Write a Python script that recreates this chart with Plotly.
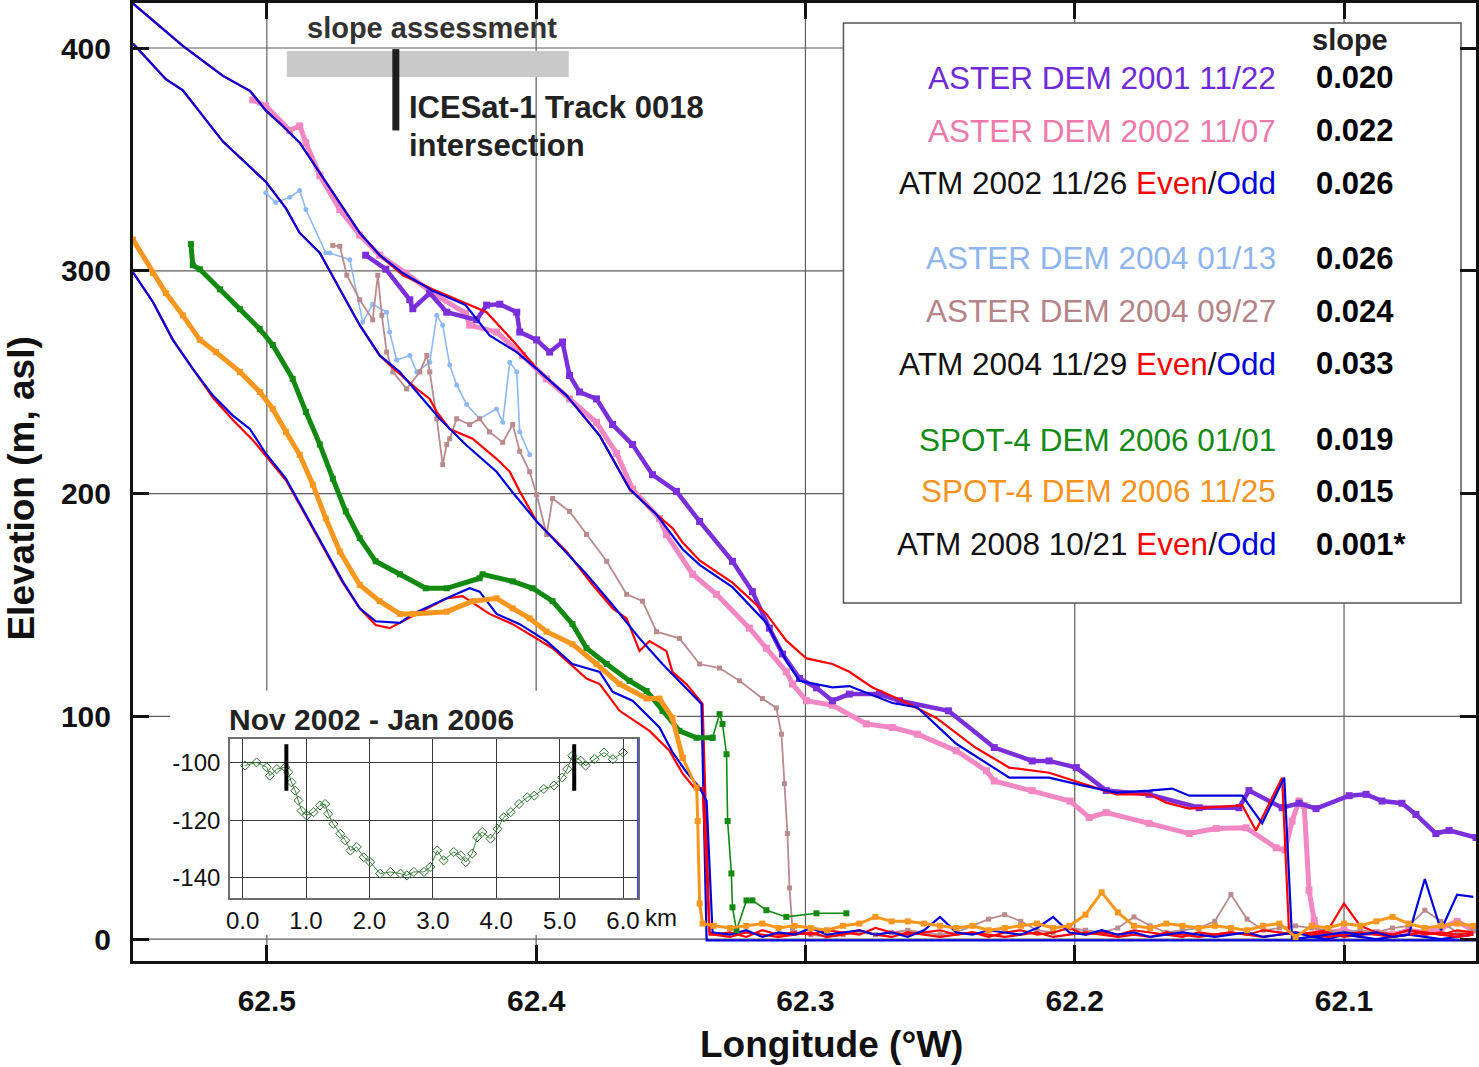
import plotly.graph_objects as go

# ------------------------------------------------------------------ data
X_TICKS = [62.5, 62.4, 62.3, 62.2, 62.1]
Y_TICKS = [0, 100, 200, 300, 400]

# ASTER DEM 2001 11/22
ASTER01_LON = [62.4633, 62.4558, 62.4469, 62.4458, 62.4395, 62.4332, 62.4221, 62.4184, 62.4135, 62.4072,
               62.4061, 62.3998, 62.3950, 62.3902, 62.3876, 62.3839, 62.3776, 62.3716, 62.3642, 62.3568,
               62.3479, 62.3393, 62.3271, 62.3197, 62.3134, 62.3085, 62.3022, 62.2959, 62.2900, 62.2837,
               62.2725, 62.2651, 62.2469, 62.2299, 62.2158, 62.2095, 62.1994, 62.1883, 62.1724, 62.1538,
               62.1390, 62.1353, 62.1230, 62.1167, 62.1104, 62.0981, 62.0918, 62.0859, 62.0785, 62.0733,
               62.0659, 62.0610, 62.0510]
ASTER01_ELEV = [307, 300.7, 287, 283, 290, 281.4, 278, 284.6, 285, 281.4,
                272.5, 269, 263.5, 268, 253, 245.6, 242.5, 231, 222, 208.5,
                201, 187.5, 169.6, 156, 139.6, 128, 117, 112.8, 107, 110,
                110, 107, 102.5, 86, 80, 80, 77, 66.7, 65, 59,
                59, 66.7, 59, 61, 58.6, 64.4, 65, 62, 61, 56,
                47.4, 48.8, 45.6]

# ASTER DEM 2002 11/07
ASTER02_LON = [62.5052, 62.5004, 62.4915, 62.4878, 62.4855, 62.4803, 62.4729, 62.4655, 62.4581, 62.4484,
               62.4384, 62.4262, 62.4247, 62.4147, 62.4050, 62.3961, 62.3876, 62.3776, 62.3701, 62.3642,
               62.3542, 62.3516, 62.3419, 62.3330, 62.3208, 62.3145, 62.3071, 62.3048, 62.2996, 62.2900,
               62.2774, 62.2677, 62.2584, 62.2440, 62.2328, 62.2299, 62.2158, 62.2017, 62.1946, 62.1883,
               62.1724, 62.1575, 62.1475, 62.1364, 62.1252, 62.1219, 62.1193, 62.1167, 62.1148, 62.1130,
               62.1111, 62.1093]
ASTER02_ELEV = [376.7, 374, 363, 365, 357.5, 342.7, 327.5, 316, 307, 299,
                290, 281, 275.6, 272.5, 262, 251.5, 242.5, 232, 218, 202,
                188.8, 181.6, 163.8, 154.8, 139.6, 130.6, 120, 114.5, 107, 105,
                96.6, 95, 92, 84.6, 75.6, 71, 66.7, 62, 54.6, 56.8,
                52, 47.4, 49.7, 50, 41, 40, 53, 62, 60, 22,
                8.5, 3]

# ATM 2002 11/26 even / odd
ATM02E_LON = [62.5497, 62.5312, 62.5163, 62.5063, 62.5004, 62.4941, 62.4878, 62.4803, 62.4729, 62.4655,
              62.4581, 62.4495, 62.4384, 62.4273, 62.4184, 62.4072, 62.3998, 62.3887, 62.3764, 62.3653,
              62.3553, 62.3494, 62.3456, 62.3393, 62.3271, 62.3145, 62.3071, 62.2996, 62.2900, 62.2837,
              62.2751, 62.2640, 62.2514, 62.2369, 62.2243, 62.2095, 62.1972, 62.1846, 62.1724, 62.1660,
              62.1575, 62.1378, 62.1327, 62.1230, 62.1204]
ATM02E_ELEV = [420, 401, 387.5, 380.8, 372, 365, 357.5, 344, 330.6, 317,
               307, 298, 291.7, 286, 281.4, 266.7, 256, 244, 226, 202,
               190.6, 184.5, 178, 170, 160, 146, 134, 126, 123.5, 120,
               113, 107, 99.3, 86, 77, 74.7, 69.8, 65, 65, 61.3,
               58.6, 60, 48.8, 72.5, 2.7]
ATM02O_LON = [62.5497, 62.5312, 62.5163, 62.5063, 62.5004, 62.4941, 62.4878, 62.4803, 62.4729, 62.4655,
              62.4581, 62.4495, 62.4384, 62.4262, 62.4173, 62.4072, 62.3998, 62.3887, 62.3764, 62.3653,
              62.3553, 62.3456, 62.3393, 62.3271, 62.3145, 62.3071, 62.3022, 62.2900, 62.2837, 62.2677,
              62.2584, 62.2440, 62.2243, 62.2095, 62.1972, 62.1846, 62.1724, 62.1638, 62.1575, 62.1378,
              62.1304, 62.1222, 62.1193]
ATM02O_ELEV = [420, 401, 387.5, 380.8, 372, 365, 357.5, 344, 330.6, 317,
               307, 299, 291, 284.6, 271, 263.5, 256, 244, 226, 202,
               190.6, 175, 168, 158, 142, 125, 116, 113, 113.6, 106,
               104, 87.7, 72.5, 72.5, 69, 65.8, 66.7, 67.6, 64.4, 64.4,
               52, 72.5, 0]

# ASTER DEM 2004 01/13
ASTER04A_LON = [62.5004, 62.4967, 62.4915, 62.4878, 62.4855, 62.4781, 62.4766, 62.4692, 62.4644, 62.4607,
                62.4555, 62.4544, 62.4518, 62.4469, 62.4443, 62.4395, 62.4369, 62.4347, 62.4321, 62.4295,
                62.4258, 62.4210, 62.4147, 62.4124, 62.4098, 62.4072, 62.4061, 62.4024]
ASTER04A_ELEV = [335, 330.6, 333, 336, 327.5, 308, 308, 305, 277, 285,
                 281.4, 272.5, 260, 262, 254.6, 259, 280, 275.6, 257.7, 248.7,
                 240, 233.6, 238, 232, 259, 254.6, 227.7, 217.4]

# ASTER DEM 2004 09/27
ASTER04B_LON = [62.4755, 62.4729, 62.4703, 62.4655, 62.4607, 62.4588, 62.4573, 62.4555, 62.4532, 62.4481,
                62.4432, 62.4406, 62.4395, 62.4369, 62.4347, 62.4332, 62.4321, 62.4295, 62.4247, 62.4210,
                62.4173, 62.4124, 62.4087, 62.4061, 62.4024, 62.3998, 62.3961, 62.3939, 62.3876, 62.3813,
                62.3738, 62.3664, 62.3605, 62.3553, 62.3468, 62.3393, 62.3319, 62.3245, 62.3160, 62.3108,
                62.3089, 62.3078, 62.3067, 62.3059, 62.3048]
ASTER04B_ELEV = [311.4, 311, 298, 287, 278, 298, 280, 263.5, 254.6, 247,
                 254.6, 262, 254.6, 233.6, 213, 222, 224.6, 233.6, 231, 233.6,
                 227.7, 223, 231, 219, 209.8, 199.6, 181.6, 197.8, 192, 181.6,
                 169.6, 154.8, 151.7, 138, 135, 123.5, 121.7, 116, 108, 103.8,
                 92, 69.8, 47.4, 23, 4]

# ATM 2004 11/29 even / odd
ATM04E_LON = [62.5497, 62.5375, 62.5312, 62.5163, 62.5004, 62.4929, 62.4878, 62.4803, 62.4729, 62.4655,
              62.4581, 62.4544, 62.4443, 62.4395, 62.4369, 62.4321, 62.4236, 62.4147, 62.4098, 62.4061,
              62.3998, 62.3887, 62.3790, 62.3716, 62.3664, 62.3616, 62.3579, 62.3516, 62.3494, 62.3442,
              62.3382, 62.3356]
ATM04E_ELEV = [402, 386, 381, 358, 340, 328, 317, 308, 291.7, 275.6,
               262, 257.7, 247, 242.5, 236.7, 229, 224.6, 215.6, 209.8, 201,
               187.5, 174, 159, 148.5, 144, 129.3, 133.8, 129.3, 120, 114.5,
               105.6, 2]
ATM04O_LON = [62.5497, 62.5375, 62.5312, 62.5163, 62.5004, 62.4929, 62.4878, 62.4803, 62.4729, 62.4655,
              62.4581, 62.4506, 62.4432, 62.4358, 62.4262, 62.4147, 62.4087, 62.3998, 62.3902, 62.3813,
              62.3716, 62.3616, 62.3531, 62.3442, 62.3386, 62.3367, 62.0510]
ATM04O_ELEV = [402, 386, 381, 358, 340, 328, 317, 308, 291.7, 275.6,
               262, 254.6, 244, 233.6, 222, 209.8, 200.5, 187.5, 175.4, 163.8,
               150, 135, 123.5, 112.8, 105.6, -0.5, -0.5]

# ATM 2008 10/21 even / odd
ATM08E_LON = [62.5497, 62.5423, 62.5349, 62.5275, 62.5200, 62.5126, 62.5052, 62.5004, 62.4929, 62.4855,
              62.4781, 62.4718, 62.4655, 62.4596, 62.4544, 62.4458, 62.4332, 62.4273, 62.4173, 62.4087,
              62.3939, 62.3813, 62.3764, 62.3690, 62.3579, 62.3505, 62.3456, 62.3404, 62.3382, 62.3356]
ATM08E_ELEV = [299.3, 286, 269, 256, 243, 233, 224, 217, 206, 190,
               174, 160, 148.5, 141, 139.6, 145, 153, 154, 146, 141.4,
               130.6, 117, 114.5, 102.5, 93.5, 84.6, 74.3, 66.7, 68, 3]
ATM08O_LON = [62.5497, 62.5423, 62.5349, 62.5275, 62.5200, 62.5126, 62.5063, 62.5004, 62.4929, 62.4855,
              62.4781, 62.4718, 62.4655, 62.4596, 62.4506, 62.4458, 62.4332, 62.4247, 62.4210, 62.4147,
              62.4061, 62.3961, 62.3865, 62.3764, 62.3716, 62.3642, 62.3542, 62.3494, 62.3442, 62.3393,
              62.3367, 62.3345]
ATM08O_ELEV = [299.3, 286, 269, 256, 244, 235, 229, 218, 206.7, 190.6,
               174, 160.6, 148.5, 142.7, 142, 146, 153, 157.5, 156, 146,
               141.4, 133.8, 123.5, 120, 111, 107, 95, 84, 75, 68,
               62, 3]

# SPOT-4 DEM 2006 01/01
SPOT06A_LON = [62.5282, 62.5275, 62.5249, 62.5174, 62.5100, 62.5026, 62.4978, 62.4904, 62.4855, 62.4803,
               62.4755, 62.4707, 62.4655, 62.4596, 62.4506, 62.4410, 62.4332, 62.4210, 62.4199, 62.4087,
               62.4013, 62.3939, 62.3865, 62.3813, 62.3738, 62.3653, 62.3590, 62.3531, 62.3468, 62.3404,
               62.3345, 62.3319, 62.3308, 62.3293, 62.3289, 62.3275, 62.3271, 62.3256, 62.3219, 62.3197,
               62.3145, 62.3071, 62.2959, 62.2848]
SPOT06A_ELEV = [312, 302.5, 300.7, 291.7, 282.8, 273.8, 266.7, 251.5, 236.7, 222,
                206.7, 192, 180, 169.6, 163.8, 157.5, 157.5, 162, 163.8, 160.6,
                157.5, 151.7, 141.4, 130.6, 123.5, 115.9, 111.4, 102.5, 93.5, 90.4,
                90.4, 101, 96.6, 83, 53, 29.5, 14.3, 4, 17.4, 17.4,
                13, 10, 11.6, 11.6]

# SPOT-4 DEM 2006 11/25
SPOT06B_LON = [62.5497, 62.5423, 62.5375, 62.5312, 62.5249, 62.5189, 62.5100, 62.5026, 62.4978, 62.4929,
               62.4878, 62.4829, 62.4781, 62.4729, 62.4655, 62.4581, 62.4506, 62.4458, 62.4332, 62.4236,
               62.4147, 62.4087, 62.4024, 62.3961, 62.3865, 62.3776, 62.3690, 62.3590, 62.3542, 62.3494,
               62.3456, 62.3404, 62.3400, 62.3393, 62.3382]
SPOT06B_ELEV = [314, 299, 290, 280, 269, 263.5, 254.6, 245.6, 238, 227.7,
                217.4, 204, 188.8, 174, 159, 151.7, 146, 146, 147, 151.7,
                153, 148.5, 144, 138, 132.4, 123.5, 114.5, 108, 108, 99.3,
                81.4, 68, 53, 16, 7]

# near-sea-level samples (shared longitudes)
SEA_LON = [62.334, 62.328, 62.322, 62.316, 62.310, 62.304, 62.298, 62.292, 62.286, 62.280,
           62.274, 62.268, 62.262, 62.256, 62.250, 62.244, 62.238, 62.232, 62.226, 62.220,
           62.214, 62.208, 62.202, 62.196, 62.190, 62.184, 62.178, 62.172, 62.166, 62.160,
           62.154, 62.148, 62.142, 62.136, 62.130, 62.124, 62.118, 62.112, 62.106, 62.100,
           62.094, 62.088, 62.082, 62.076, 62.070, 62.064, 62.058, 62.052]
SPOT06B_SEA = [6, 5, 6, 7, 5, 6, 5, 4, 6, 7, 10, 8, 8, 7, 6, 5, 6, 4, 5, 6,
               7, 5, 6, 11, 21, 12, 6, 5, 7, 6, 5, 6, 5, 4, 6, 7, 1, 6, 5, 7,
               6, 8, 10, 7, 5, 6, 7, 6]
ASTER04B_SEA_START = 5
ASTER04B_SEA = [3, 2, 1, 2, 3, 2, 3, 4, 3, 2, 3, 6, 9, 11, 8, 4, 3, 5, 4, 3,
                5, 10, 6, 3, 4, 5, 8, 20, 9, 4, 5, 6, 5, 4, 3, 4, 3, 5, 6, 13,
                8, 3, 4]
ATM04E_SEA = [2, 1, 3, 2, 1, 2, 3, 1, 2, 4, 2, 1, 3, 2, 1, 2, 3, 2, 1, 2,
              3, 1, 2, 3, 2, 1, 2, 1, 3, 2, 1, 2, 3, 2, 1, 2, 3, 2, 1, 2,
              3, 2, 1, 2, 3, 2, 1, 2]
ATM08O_SEA = [3, 2, 4, 1, 3, 2, 5, 2, 3, 4, 2, 3, 1, 4, 10, 3, 2, 4, 3, 2,
              5, 10, 3, 2, 4, 2, 3, 1, 2, 3, 2, 1, 2, 3, 1, 2, 3, 1, 2, 3,
              2, 3, 1, 2, 27, 4, 20, 19]
ATM08E_SEA = [2, 3, 1, 4, 2, 3, 2, 4, 3, 2, 5, 3, 2, 3, 4, 2, 3, 1, 3, 4,
              2, 3, 5, 2, 3, 2, 4, 3, 2, 1, 3, 2, 3, 2, 4, 3, 2, 3, 4, 16,
              6, 3, 2, 4, 3, 2, 4, 3]
ATM02_SEA_START = 37
ATM02E_SEA = [2, 3, 1, 2, 3, 2, 4, 2, 3, 2, 3]
ATM02O_SEA = [1, 0, 2, 1, 0, 1, 2, 1, 0, 1, 2]
ASTER02_SEA_START = 38
ASTER02_SEA = [3, 4, 2, 3, 2, 4, 3, 5, 8, 4]

# slope assessment window / ICESat-1 crossing
SLOPE_WINDOW = [62.4926, 62.3879]
SLOPE_BAR_ELEV = [387, 398.7]
ICESAT_LON = 62.4521
ICESAT_ELEV = [363, 399.5]

# inset: elevation change Nov 2002 - Jan 2006
INSET_KM = [0.04, 0.22, 0.38, 0.43, 0.54, 0.67, 0.72, 0.77, 0.83, 0.88,
            0.93, 1.01, 1.12, 1.22, 1.30, 1.35, 1.43, 1.54, 1.62, 1.70,
            1.80, 1.91, 2.01, 2.17, 2.33, 2.49, 2.59, 2.70, 2.86, 2.96,
            3.07, 3.17, 3.33, 3.44, 3.52, 3.62, 3.70, 3.78, 3.91, 4.02,
            4.12, 4.23, 4.36, 4.49, 4.60, 4.75, 4.91, 5.04, 5.12, 5.20,
            5.33, 5.41, 5.55, 5.70, 5.84, 6.00]
INSET_DH = [-101.1, -100, -101.7, -104.6, -102.3, -101.7, -103.4, -106.9, -109.8, -113.2,
            -116.7, -118.4, -117.2, -114.9, -114.4, -117.8, -121.3, -124.7, -127, -130.5,
            -129.3, -132.8, -134.5, -138.5, -137.9, -138.5, -139.1, -137.9, -137.9, -136.2,
            -130.5, -133.9, -131, -132.2, -134.5, -131.6, -125.9, -124.1, -126.4, -123,
            -119, -117.2, -114.4, -112.1, -111.5, -109.2, -108, -105.2, -102.3, -97.7,
            -99.4, -101.1, -98.9, -96.6, -98.9, -96.6]
INSET_X_TICKS = [0, 1, 2, 3, 4, 5, 6]
INSET_Y_TICKS = [-100, -120, -140]
INSET_MARKS = [0.69, 5.23]
INSET_MARK_DH = [-93.7, -109.8]

LEGEND_LABELS = ["ASTER DEM 2001 11/22", "ASTER DEM 2002 11/07", "ATM 2002 11/26",
                 "ASTER DEM 2004 01/13", "ASTER DEM 2004 09/27", "ATM 2004 11/29",
                 "SPOT-4 DEM 2006 01/01", "SPOT-4 DEM 2006 11/25", "ATM 2008 10/21"]
SLOPES = ["0.020", "0.022", "0.026", "0.026", "0.024", "0.033", "0.019", "0.015", "0.001*"]

# ------------------------------------------------------------------ styles
FONT = "Liberation Sans"
C_PURPLE = "#7A2FDA"
C_PINK = "#F287C4"
C_LBLUE = "#8DB8F5"
C_BROWN = "#B98B8D"
C_GREEN = "#128A12"
C_ORANGE = "#F9961E"
C_RED = "#FF0000"
C_BLUE = "#0000DD"
C_GRID = "#5E5E5E"
LEG_COLORS = ["#6F2BD8", "#EE7AAA", "#111111", "#8FB5EE", "#B58489", "#111111",
              "#168A16", "#F7931E", "#111111"]

W, H = 1479, 1067
ML, MR, MT, MB = 133, 2, 0, 106


def PX(px):
    return (px - ML) / (W - ML - MR)


def PY(py):
    return (H - MB - py) / (H - MT - MB)


def join(lon, elev, sea=None, start=0):
    x = list(lon)
    y = list(elev)
    if sea:
        x += SEA_LON[start:start + len(sea)]
        y += list(sea)
    return x, y


fig = go.Figure()


def thick(x, y, color, width=5, marker=6, symbol="square"):
    fig.add_trace(go.Scatter(x=x, y=y, mode="lines+markers",
                             line=dict(color=color, width=width),
                             marker=dict(color=color, size=marker, symbol=symbol),
                             showlegend=False, hoverinfo="skip"))


def thin(x, y, color, width=2.2):
    fig.add_trace(go.Scatter(x=x, y=y, mode="lines",
                             line=dict(color=color, width=width),
                             showlegend=False, hoverinfo="skip"))


# ASTER 2002 (pink)
x, y = join(ASTER02_LON, ASTER02_ELEV, ASTER02_SEA, ASTER02_SEA_START)
thick(x, y, C_PINK, width=5, marker=7)
# ASTER 2001 (purple)
thick(ASTER01_LON, ASTER01_ELEV, C_PURPLE, width=4.5, marker=7)
# ASTER 2004 01/13 (light blue)
fig.add_trace(go.Scatter(x=ASTER04A_LON, y=ASTER04A_ELEV, mode="lines+markers",
                         line=dict(color=C_LBLUE, width=1.6),
                         marker=dict(color=C_LBLUE, size=5, symbol="circle"),
                         showlegend=False, hoverinfo="skip"))
# ASTER 2004 09/27 (brown)
x, y = join(ASTER04B_LON, ASTER04B_ELEV, ASTER04B_SEA, ASTER04B_SEA_START)
fig.add_trace(go.Scatter(x=x, y=y, mode="lines+markers",
                         line=dict(color=C_BROWN, width=1.8),
                         marker=dict(color=C_BROWN, size=5, symbol="square"),
                         showlegend=False, hoverinfo="skip"))
# ATM lines
x, y = join(ATM02E_LON, ATM02E_ELEV, ATM02E_SEA, ATM02_SEA_START)
thin(x, y, C_RED)
x, y = join(ATM02O_LON, ATM02O_ELEV, ATM02O_SEA, ATM02_SEA_START)
thin(x, y, C_BLUE)
x, y = join(ATM04E_LON, ATM04E_ELEV, ATM04E_SEA)
thin(x, y, C_RED)
thin(ATM04O_LON, ATM04O_ELEV, C_BLUE)
x, y = join(ATM08E_LON, ATM08E_ELEV, ATM08E_SEA)
thin(x, y, C_RED)
x, y = join(ATM08O_LON, ATM08O_ELEV, ATM08O_SEA)
thin(x, y, C_BLUE)

# SPOT-4 2006 01/01 (green): dense slope part + sparse tail
n = 31
thick(SPOT06A_LON[:n], SPOT06A_ELEV[:n], C_GREEN, width=5, marker=6)
fig.add_trace(go.Scatter(x=SPOT06A_LON[n - 1:], y=SPOT06A_ELEV[n - 1:], mode="lines+markers",
                         line=dict(color=C_GREEN, width=1.6),
                         marker=dict(color=C_GREEN, size=6, symbol="square"),
                         showlegend=False, hoverinfo="skip"))
# SPOT-4 2006 11/25 (orange)
m = 31
thick(SPOT06B_LON[:m], SPOT06B_ELEV[:m], C_ORANGE, width=5, marker=6)
x, y = join(SPOT06B_LON[m - 1:], SPOT06B_ELEV[m - 1:], SPOT06B_SEA)
fig.add_trace(go.Scatter(x=x, y=y, mode="lines+markers",
                         line=dict(color=C_ORANGE, width=3),
                         marker=dict(color=C_ORANGE, size=6, symbol="square"),
                         showlegend=False, hoverinfo="skip"))

# inset trace
fig.add_trace(go.Scatter(x=INSET_KM, y=INSET_DH, xaxis="x2", yaxis="y2", mode="lines+markers",
                         line=dict(color="#3C8A3C", width=1),
                         marker=dict(color="#2F6E2F", size=7, symbol="diamond-open", line=dict(width=1)),
                         showlegend=False, hoverinfo="skip"))

# ------------------------------------------------------------------ shapes
shapes = []
# slope assessment bar (under the grid line)
shapes.append(dict(type="rect", xref="x", yref="y",
                   x0=SLOPE_WINDOW[0], x1=SLOPE_WINDOW[1], y0=SLOPE_BAR_ELEV[0], y1=SLOPE_BAR_ELEV[1],
                   fillcolor="#C9C9C9", line=dict(width=0), layer="below"))
# main grid, drawn as shapes so that white panels can hide it
for v in X_TICKS:
    shapes.append(dict(type="line", xref="x", yref="y domain", x0=v, x1=v, y0=0, y1=1,
                       line=dict(color=C_GRID, width=1.2), layer="below"))
for v in Y_TICKS:
    shapes.append(dict(type="line", xref="x domain", yref="y", x0=0, x1=1, y0=v, y1=v,
                       line=dict(color=C_GRID, width=1.2), layer="below"))
# white backing behind the inset
shapes.append(dict(type="rect", xref="x domain", yref="y domain",
                   x0=PX(170), x1=PX(677), y0=PY(935), y1=PY(690),
                   fillcolor="white", line=dict(width=0), layer="below"))
# legend box
shapes.append(dict(type="rect", xref="x domain", yref="y domain",
                   x0=PX(844), x1=PX(1462), y0=PY(602), y1=PY(20),
                   fillcolor="white", line=dict(color="#555555", width=1.5), layer="below"))
# ICESat-1 crossing
shapes.append(dict(type="line", xref="x", yref="y",
                   x0=ICESAT_LON, x1=ICESAT_LON, y0=ICESAT_ELEV[0], y1=ICESAT_ELEV[1],
                   line=dict(color="#1E1E1E", width=7), layer="above"))
# inset markers
for km in INSET_MARKS:
    shapes.append(dict(type="line", xref="x2", yref="y2", x0=km, x1=km,
                       y0=INSET_MARK_DH[0], y1=INSET_MARK_DH[1],
                       line=dict(color="black", width=4), layer="above"))
# inset right border (blue)
shapes.append(dict(type="line", xref="x2 domain", yref="y2 domain", x0=1, x1=1, y0=0, y1=1,
                   line=dict(color="#3344FF", width=1.2), layer="above"))

# ------------------------------------------------------------------ annotations
ann = []


def text(px, py, s, size, color="#111111", xanchor="center", bold=False, angle=0):
    if bold:
        s = "<b>" + s + "</b>"
    ann.append(dict(xref="paper", yref="paper", x=PX(px), y=PY(py), text=s, showarrow=False,
                    xanchor=xanchor, yanchor="middle", textangle=angle,
                    font=dict(family=FONT, size=size, color=color)))


text(432, 25, "slope assessment", 29, "#333333", bold=True)
text(407, 105, "ICESat-1 Track 0018", 31, "#222222", "left", bold=True)
text(407, 143, "intersection", 31, "#222222", "left", bold=True)

text(1351, 37, "slope", 29, "#222222", bold=True)
ROW_Y = [75, 128, 181, 256, 309, 362, 438, 490, 543]
for lab, slope, col, ry in zip(LEGEND_LABELS, SLOPES, LEG_COLORS, ROW_Y):
    if lab.startswith("ATM"):
        lab = (lab + " <span style='color:#FF0000'>Even</span>/"
               "<span style='color:#0000DD'>Odd</span>")
    text(1279, ry, lab, 31.5, col, "right")
    text(1315, ry, slope, 31, "#000000", "left", bold=True)

text(227, 719, "Nov 2002 - Jan 2006", 30, "#222222", "left", bold=True)
text(643, 917, "km", 24, "#111111", "left")

text(832, 1045, "Longitude (°W)", 37, "#111111", bold=True)
text(21, 487, "Elevation (m, asl)", 37, "#111111", bold=True, angle=-90)

# ------------------------------------------------------------------ layout
fig.update_layout(
    width=W, height=H,
    margin=dict(l=ML, r=MR, t=MT, b=MB, pad=0),
    paper_bgcolor="white", plot_bgcolor="white",
    shapes=shapes, annotations=ann,
    font=dict(family=FONT, color="#111111"),
    xaxis=dict(range=[62.5497, 62.0510], autorange=False,
               tickvals=X_TICKS, ticktext=["<b>%.1f</b>" % v for v in X_TICKS],
               tickfont=dict(family=FONT, size=30, color="#111111"),
               ticks="inside", ticklen=16, tickwidth=2.5, tickcolor="#111111",
               showline=True, linecolor="#111111", linewidth=2.5, mirror="ticks",
               showgrid=False, zeroline=False, ticklabelstandoff=11),
    yaxis=dict(range=[-9.8, 420.2], autorange=False,
               tickvals=Y_TICKS, ticktext=["<b>%d</b>" % v for v in Y_TICKS],
               tickfont=dict(family=FONT, size=30, color="#111111"),
               ticks="inside", ticklen=16, tickwidth=2.5, tickcolor="#111111",
               showline=True, linecolor="#111111", linewidth=3, mirror="ticks",
               showgrid=False, zeroline=False, ticklabelstandoff=13),
    xaxis2=dict(domain=[PX(230), PX(638)], anchor="y2", range=[-0.2, 6.23], autorange=False,
                tickvals=INSET_X_TICKS, ticktext=["%.1f" % v for v in INSET_X_TICKS],
                tickfont=dict(family=FONT, size=24, color="#111111"),
                ticks="", showline=True, linecolor="#6E6E6E", linewidth=1.5, mirror=True,
                showgrid=True, gridcolor="#3A3A3A", gridwidth=1.4, zeroline=False,
                ticklabelstandoff=0),
    yaxis2=dict(domain=[PY(898), PY(738)], anchor="x2", range=[-147, -91.8], autorange=False,
                tickvals=INSET_Y_TICKS, ticktext=["%d" % v for v in INSET_Y_TICKS],
                tickfont=dict(family=FONT, size=24, color="#111111"),
                ticks="", showline=True, linecolor="#6E6E6E", linewidth=1.5, mirror=True,
                showgrid=True, gridcolor="#3A3A3A", gridwidth=1.4, zeroline=False,
                ticklabelstandoff=3),
)

fig.write_html("out.html", config={"displayModeBar": False},
               post_script="document.body.style.margin='0px';")
